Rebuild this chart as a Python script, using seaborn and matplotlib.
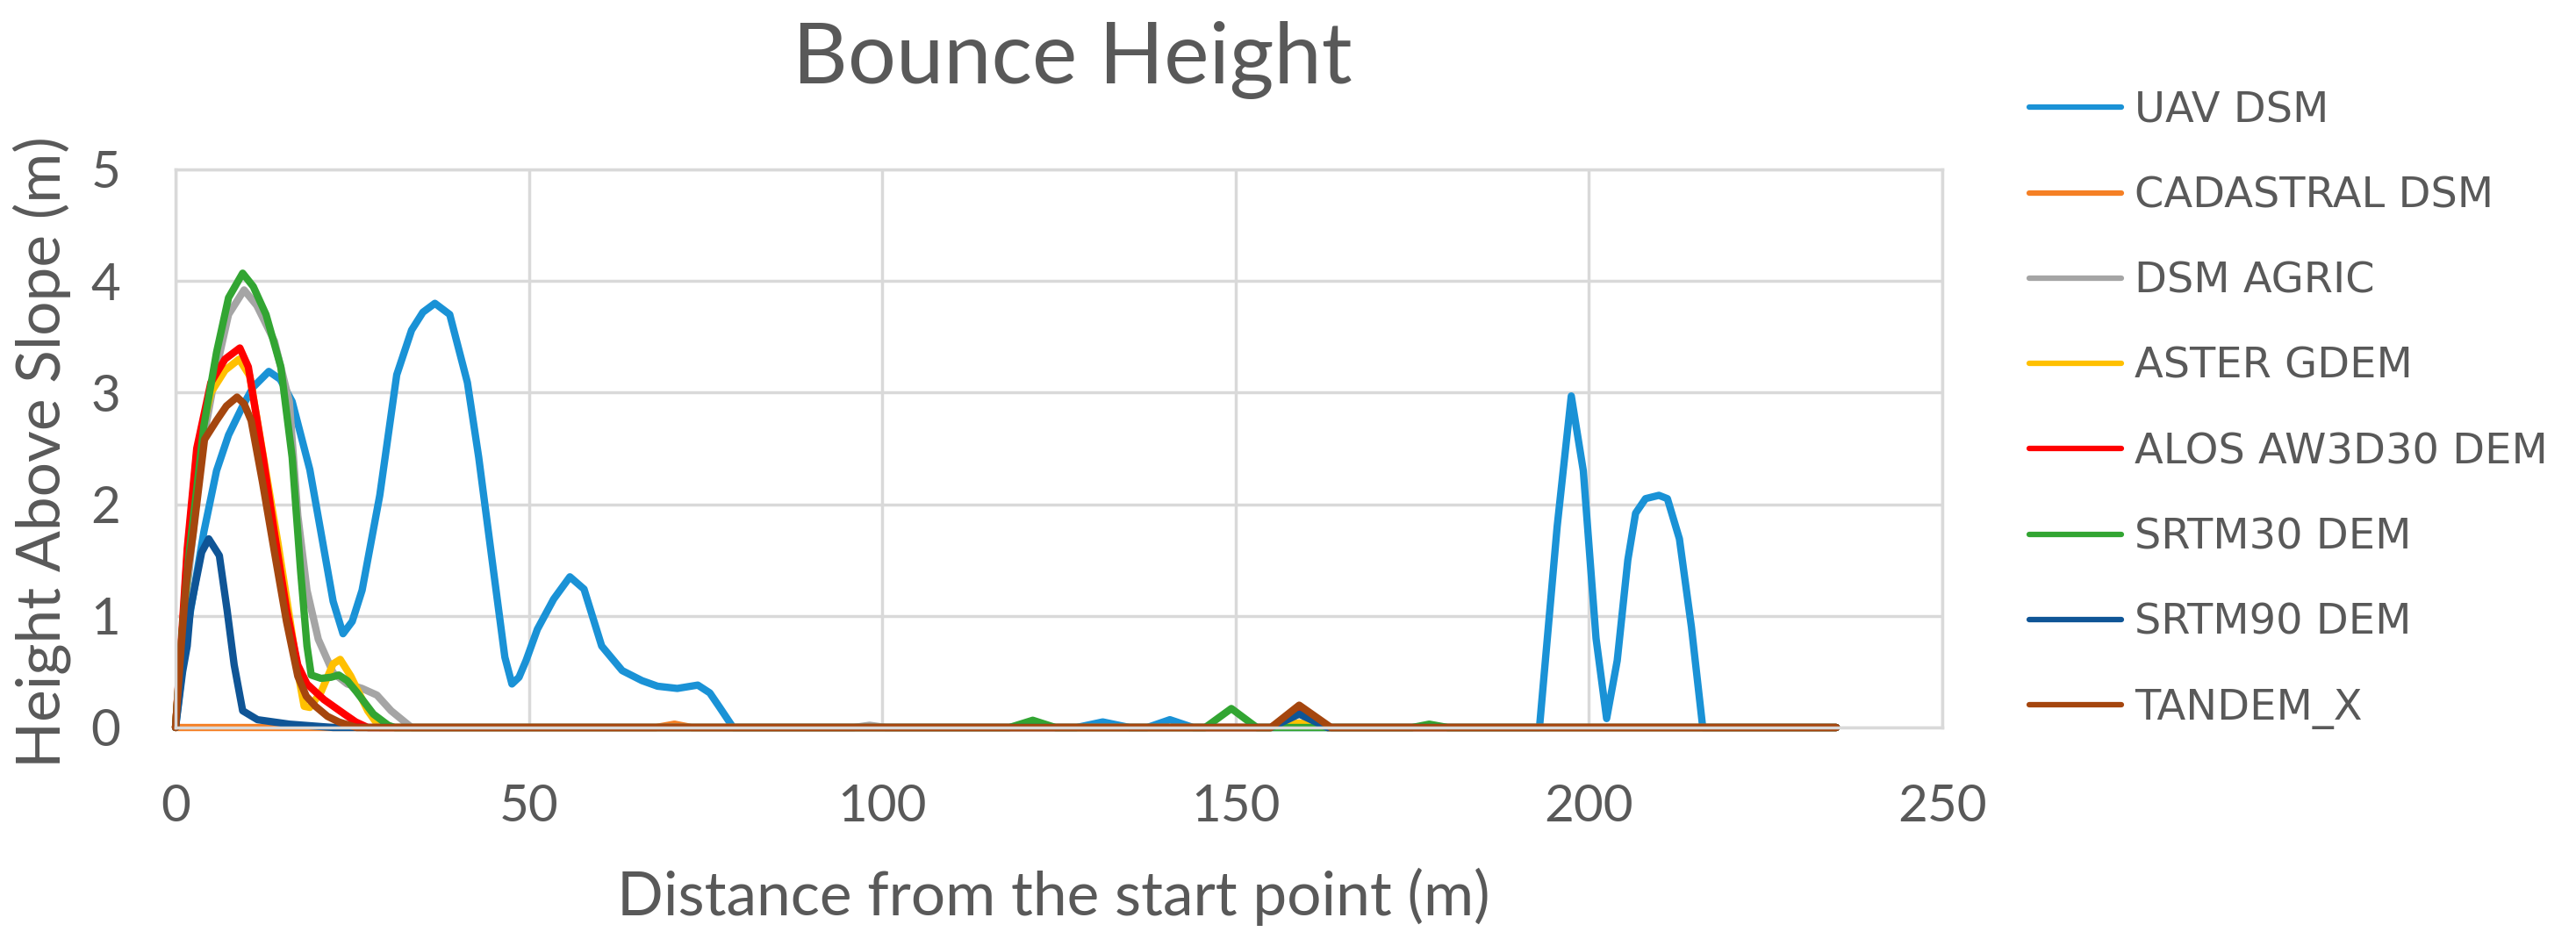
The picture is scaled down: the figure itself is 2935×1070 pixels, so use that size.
import numpy as np
import pandas as pd
import matplotlib
matplotlib.use('Agg')
import matplotlib.pyplot as plt
import seaborn as sns
from matplotlib.lines import Line2D

# values: distance (m) and height above slope (m)
uav_x = [0, 1, 2, 4, 5.8, 7.5, 9.5, 11, 13.2, 14.8, 16.5, 19, 20.6, 22.3, 23.7, 25, 26.4, 28.9,
         31.3, 33.4, 35, 36.7, 38.8, 41.3, 42.9, 45, 46.6, 47.6, 48.6, 49.6, 51.2, 53.5, 55.8,
         57.8, 60.3, 63.2, 66, 68.2, 71, 73.9, 75.6, 77, 78.9, 127.5, 131.2, 135, 137.5, 140.7,
         144, 193, 195.5, 197.5, 199.2, 201, 202.5, 204, 205.5, 206.6, 208, 209.9, 211.1,
         212.8, 214.5, 216.1, 235]
uav_y = [0, 0.55, 1.0, 1.75, 2.3, 2.62, 2.88, 3.05, 3.19, 3.12, 2.92, 2.31, 1.74, 1.13, 0.84, 0.95,
         1.23, 2.08, 3.16, 3.56, 3.72, 3.80, 3.70, 3.09, 2.42, 1.40, 0.63, 0.39, 0.45, 0.60, 0.88,
         1.15, 1.35, 1.24, 0.73, 0.51, 0.42, 0.37, 0.35, 0.38, 0.31, 0.18, 0, 0, 0.05, 0, 0, 0.07,
         0, 0, 1.8, 2.97, 2.3, 0.8, 0.08, 0.6, 1.5, 1.92, 2.05, 2.08, 2.05, 1.69, 0.9, 0, 0]

cadastral_x = [0, 68, 70.6, 73, 155, 159, 163, 235]
cadastral_y = [0, 0, 0.03, 0, 0, 0.04, 0, 0]

agric_x = [0, 1, 2.9, 4, 5.8, 7.5, 9.7, 11.5, 14, 16.1, 17.3, 18.6, 20.2, 22.3, 24.3, 26.4, 28.5,
           30.5, 33.4, 96, 98.2, 100.5, 235]
agric_y = [0, 0.85, 2.0, 2.6, 3.22, 3.7, 3.92, 3.78, 3.46, 2.92, 1.9, 1.23, 0.79, 0.49, 0.39, 0.35,
           0.29, 0.15, 0, 0, 0.02, 0, 0]

aster_x = [0, 1, 1.65, 3, 5, 7, 9, 10.5, 12.5, 14.5, 16.1, 17.3, 18.2, 19, 20.6, 22.3, 23.3, 24.8,
           27.2, 28.9, 155, 159, 163, 235]
aster_y = [0, 0.9, 1.55, 2.45, 3.0, 3.2, 3.3, 3.15, 2.4, 1.65, 1.0, 0.5, 0.19, 0.18, 0.32, 0.57,
           0.61, 0.46, 0.15, 0, 0, 0.04, 0, 0]

alos_x = [0, 1, 1.65, 3, 5, 7, 9.1, 10.3, 12.4, 14, 15.7, 17.3, 18.6, 21, 23.9, 25.5, 27.2, 155,
          159, 163, 235]
alos_y = [0, 0.95, 1.6, 2.5, 3.09, 3.3, 3.40, 3.23, 2.42, 1.74, 1.06, 0.56, 0.39, 0.25, 0.12, 0.05,
          0, 0, 0.15, 0, 0]

srtm30_x = [0, 1, 2, 2.9, 4, 5.8, 7.5, 9.5, 11, 12.8, 14.9, 16.5, 17.7, 18.6, 19.2, 20.6, 22,
            23.1, 24.3, 25.6, 28, 30.1, 31, 118, 121.3, 124.5, 145.7, 149.4, 153, 175, 177.4,
            180, 235]
srtm30_y = [0, 0.9, 1.6, 2.08, 2.7, 3.36, 3.85, 4.07, 3.95, 3.7, 3.23, 2.42, 1.4, 0.73, 0.47, 0.44,
            0.45, 0.47, 0.42, 0.32, 0.12, 0.02, 0, 0, 0.065, 0, 0, 0.17, 0, 0, 0.03, 0, 0]

srtm90_x = [0, 1, 1.65, 2.1, 3.7, 4.7, 6.2, 7.3, 8.3, 9.5, 11.6, 16.1, 22.3, 155, 159, 163, 235]
srtm90_y = [0, 0.5, 0.73, 1.06, 1.57, 1.69, 1.54, 1.05, 0.56, 0.15, 0.07, 0.03, 0, 0, 0.12, 0, 0]

tandem_x = [0, 0.8, 1.5, 2.5, 4.1, 5.8, 7.2, 8.7, 9.7, 10.7, 12.3, 14, 15.7, 17.3, 18.5, 19.8,
            21.5, 23.1, 25.6, 155, 159, 163.5, 235]
tandem_y = [0, 0.73, 1.3, 1.74, 2.58, 2.75, 2.88, 2.96, 2.9, 2.75, 2.2, 1.57, 0.95, 0.46, 0.28,
            0.19, 0.1, 0.05, 0, 0, 0.2, 0, 0]

labels = ['UAV DSM', 'CADASTRAL DSM', 'DSM AGRIC', 'ASTER GDEM', 'ALOS AW3D30 DEM',
          'SRTM30 DEM', 'SRTM90 DEM', 'TANDEM_X']
colors = ['#1A92D6', '#F58025', '#A5A5A5', '#FFC000', '#FF0000', '#32A532', '#0F5596', '#A5460E']

series = [(uav_x, uav_y), (cadastral_x, cadastral_y), (agric_x, agric_y), (aster_x, aster_y),
          (alos_x, alos_y), (srtm30_x, srtm30_y), (srtm90_x, srtm90_y), (tandem_x, tandem_y)]

rows = []
for name, (xs, ys) in zip(labels, series):
    for x, y in zip(xs, ys):
        rows.append({'model': name, 'dist': x, 'height': y})
df = pd.DataFrame(rows)

sns.set_style('whitegrid')
plt.rcParams['font.family'] = ['Lato', 'DejaVu Sans']
text_col = '#595959'
grid_col = '#D9D9D9'

W, H = 2935, 1070
fig = plt.figure(figsize=(W / 100, H / 100), dpi=100)
ax = fig.add_axes([200 / W, 1 - 829 / H, (2213 - 200) / W, (829 - 193) / H])

sns.lineplot(data=df, x='dist', y='height', hue='model', hue_order=labels,
             palette=dict(zip(labels, colors)), estimator=None, sort=False,
             linewidth=6, legend=False, ax=ax, clip_on=False)
for ln in ax.lines:
    ln.set_solid_joinstyle('round')
    ln.set_solid_capstyle('round')

ax.set_xlim(0, 250)
ax.set_ylim(0, 5)
ax.set_xticks(range(0, 251, 50))
ax.set_yticks(range(0, 6))
ax.grid(color=grid_col, linewidth=2.5)
for s in ax.spines.values():
    s.set_color(grid_col)
    s.set_linewidth(2.5)
ax.tick_params(axis='both', length=0, labelsize=42, labelcolor=text_col)
ax.tick_params(axis='x', pad=46)
ax.tick_params(axis='y', pad=45)
ax.set_xlabel('')
ax.set_ylabel('')

fig.text(1222 / W, 1 - 95 / H, 'Bounce Height', ha='center', va='baseline',
         fontsize=70, color=text_col)
fig.text(1200 / W, 1 - 1043 / H, 'Distance from the start point (m)', ha='center',
         va='baseline', fontsize=50, color=text_col)
fig.text(48 / W, 1 - 515 / H, 'Height Above Slope (m)', ha='center', va='center',
         rotation=90, fontsize=50, color=text_col)

handles = [Line2D([0], [0], color=c, lw=4.5) for c in colors]
fig.legend(handles, labels, loc='upper left', bbox_to_anchor=(2312 / W, 1 - 102 / H),
           frameon=False, prop={'family': 'DejaVu Sans', 'size': 34.5}, labelcolor=text_col,
           handlelength=2.2, handletextpad=0.3, labelspacing=1.05, borderpad=0,
           borderaxespad=0)

fig.savefig('out.png', dpi=100)
